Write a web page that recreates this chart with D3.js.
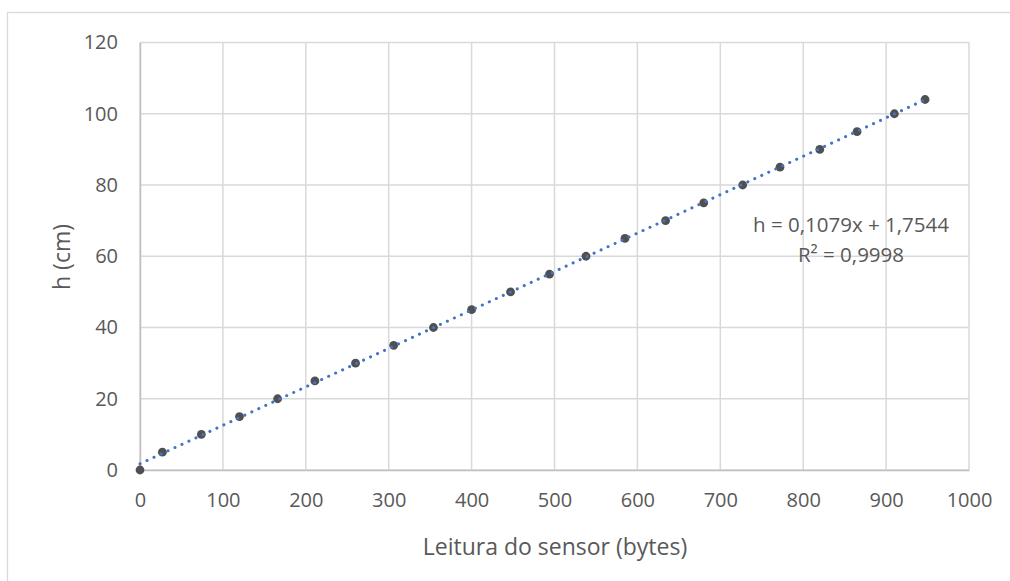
<!DOCTYPE html>
<html>
<head>
<meta charset="utf-8">
<script src="https://cdn.jsdelivr.net/npm/d3@7"></script>
<style>
  html, body { margin: 0; padding: 0; background: #fff; }
  svg { display: block; font-family: "Open Sans", Lato, sans-serif; }
</style>
</head>
<body>
<svg id="chart" width="1010" height="581"></svg>
<script>
// Sensor calibration readings: raw reading (bytes) vs. water height (cm)
const sensorReadings = [0, 27, 74, 120, 166, 211, 260, 306, 354, 400, 447, 494, 538, 585, 634, 680, 727, 772, 820, 865, 910, 947];
const heightsCm      = [0, 5, 10, 15, 20, 25, 30, 35, 40, 45, 50, 55, 60, 65, 70, 75, 80, 85, 90, 95, 100, 104];
const xTicks = [0, 100, 200, 300, 400, 500, 600, 700, 800, 900, 1000];
const yTicks = [0, 20, 40, 60, 80, 100, 120];
// Linear trendline fitted to the readings
const trendSlope = 0.1079;
const trendIntercept = 1.7544;
const rSquared = 0.9998;
const equationLines = ["h = 0,1079x + 1,7544", "R² = 0,9998"];

const svg = d3.select("#chart");
const plot = { left: 140, right: 969, top: 42.5, bottom: 470 };
const textColor = "#595959";

const x = d3.scaleLinear().domain([0, 1000]).range([plot.left, plot.right]);
const y = d3.scaleLinear().domain([0, 120]).range([plot.bottom, plot.top]);

// chart frame
svg.append("rect")
  .attr("x", 7.5).attr("y", 12.5).attr("width", 1020).attr("height", 600)
  .attr("fill", "#fff").attr("stroke", "#d9d9d9").attr("stroke-width", 1.3);

// gridlines
const grid = svg.append("g").attr("stroke", "#d9d9d9").attr("stroke-width", 1.5);
grid.selectAll("line.h").data(yTicks).join("line")
  .attr("class", "h")
  .attr("x1", plot.left).attr("x2", plot.right)
  .attr("y1", d => y(d)).attr("y2", d => y(d));
grid.selectAll("line.v").data(xTicks).join("line")
  .attr("class", "v")
  .attr("y1", plot.top).attr("y2", plot.bottom)
  .attr("x1", d => x(d)).attr("x2", d => x(d));

// axes (lines and labels)
const xAxis = svg.append("g")
  .attr("transform", `translate(0,${plot.bottom})`)
  .call(d3.axisBottom(x).tickValues(xTicks).tickSize(0).tickPadding(23).tickFormat(d3.format("d")));
const yAxis = svg.append("g")
  .attr("transform", `translate(${plot.left},0)`)
  .call(d3.axisLeft(y).tickValues(yTicks).tickSize(0).tickPadding(22).tickFormat(d3.format("d")));
[xAxis, yAxis].forEach(g => {
  g.select(".domain").attr("stroke", "#bfbfbf").attr("stroke-width", 1.5);
  g.selectAll("text").attr("fill", textColor).attr("font-size", 20)
    .attr("font-family", "'Open Sans', Lato, sans-serif");
});

// data markers
svg.append("g").selectAll("circle")
  .data(sensorReadings.map((v, i) => [v, heightsCm[i]]))
  .join("circle")
  .attr("cx", d => x(d[0])).attr("cy", d => y(d[1]))
  .attr("r", 4.4).attr("fill", "#505050");

// dotted linear trendline over the data range
const xMin = d3.min(sensorReadings), xMax = d3.max(sensorReadings);
svg.append("line")
  .attr("x1", x(xMin)).attr("y1", y(trendSlope * xMin + trendIntercept))
  .attr("x2", x(xMax)).attr("y2", y(trendSlope * xMax + trendIntercept))
  .attr("stroke", "#4472c4").attr("stroke-width", 3)
  .attr("stroke-linecap", "round").attr("stroke-dasharray", "0.1 7.6");

// trendline equation
svg.append("g").selectAll("text").data(equationLines).join("text")
  .attr("x", 851).attr("y", (d, i) => 232 + i * 30)
  .attr("text-anchor", "middle").attr("fill", textColor).attr("font-size", 20.5)
  .text(d => d);

// axis titles
svg.append("text")
  .attr("x", 555).attr("y", 555).attr("text-anchor", "middle")
  .attr("fill", textColor).attr("font-size", 23)
  .text("Leitura do sensor (bytes)");
svg.append("text")
  .attr("transform", "translate(70,257) rotate(-90)").attr("text-anchor", "middle")
  .attr("fill", textColor).attr("font-size", 23)
  .text("h (cm)");
</script>
</body>
</html>
